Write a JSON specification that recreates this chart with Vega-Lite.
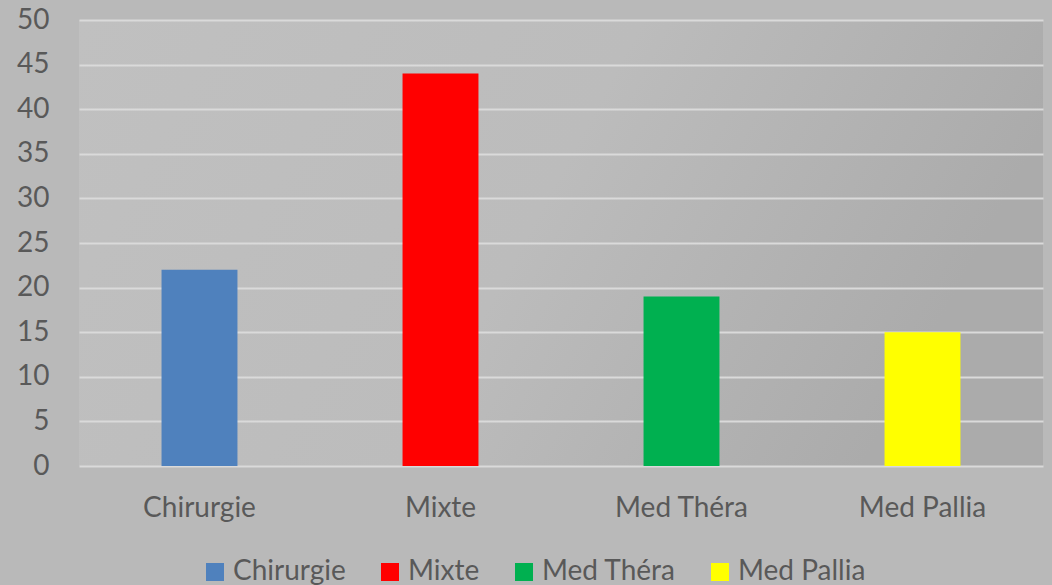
{
  "$schema": "https://vega.github.io/schema/vega-lite/v6.json",
  "width": 964,
  "height": 446,
  "autosize": {"type": "none"},
  "padding": {"left": 79, "top": 20, "right": 9, "bottom": 119},
  "background": "#b9b9b9",
  "config": {
    "view": {"stroke": null, "fill": {"gradient": "linear", "x1": 0, "y1": 0, "x2": 1, "y2": 0.25, "stops": [{"offset": 0, "color": "#c0c0c0"}, {"offset": 0.55, "color": "#bcbcbc"}, {"offset": 1, "color": "#ababab"}]}},
    "font": "Lato"
  },
  "data": {
    "values": [
      {"service": "Chirurgie", "value": 22},
      {"service": "Mixte", "value": 44},
      {"service": "Med Théra", "value": 19},
      {"service": "Med Pallia", "value": 15}
    ]
  },
  "mark": {"type": "bar"},
  "encoding": {
    "x": {
      "field": "service",
      "type": "nominal",
      "sort": ["Chirurgie", "Mixte", "Med Théra", "Med Pallia"],
      "scale": {"paddingInner": 0.685, "paddingOuter": 0.3425},
      "axis": {
        "title": null,
        "labelAngle": 0,
        "domain": false,
        "ticks": false,
        "labelFont": "Lato",
        "labelFontSize": 28,
        "labelColor": "#595959",
        "labelPadding": 28
      }
    },
    "y": {
      "field": "value",
      "type": "quantitative",
      "scale": {"domain": [0, 50]},
      "axis": {
        "title": null,
        "values": [0, 5, 10, 15, 20, 25, 30, 35, 40, 45, 50],
        "domain": false,
        "ticks": false,
        "grid": true,
        "gridColor": "#dadada",
        "gridWidth": 2,
        "labelFont": "Lato",
        "labelFontSize": 28,
        "labelColor": "#595959",
        "labelPadding": 30
      }
    },
    "color": {
      "field": "service",
      "type": "nominal",
      "sort": ["Chirurgie", "Mixte", "Med Théra", "Med Pallia"],
      "scale": {
        "domain": ["Chirurgie", "Mixte", "Med Théra", "Med Pallia"],
        "range": ["#4f81bd", "#ff0000", "#00b050", "#ffff00"]
      },
      "legend": {
        "title": null,
        "orient": "none",
        "direction": "horizontal",
        "legendX": 122,
        "legendY": 538,
        "symbolType": "square",
        "symbolSize": 324,
        "symbolStrokeWidth": 0,
        "symbolOpacity": 1,
        "labelFont": "Lato",
        "labelFontSize": 28,
        "labelColor": "#595959",
        "labelOffset": 4,
        "columnPadding": 30,
        "labelLimit": 300
      }
    }
  }
}
